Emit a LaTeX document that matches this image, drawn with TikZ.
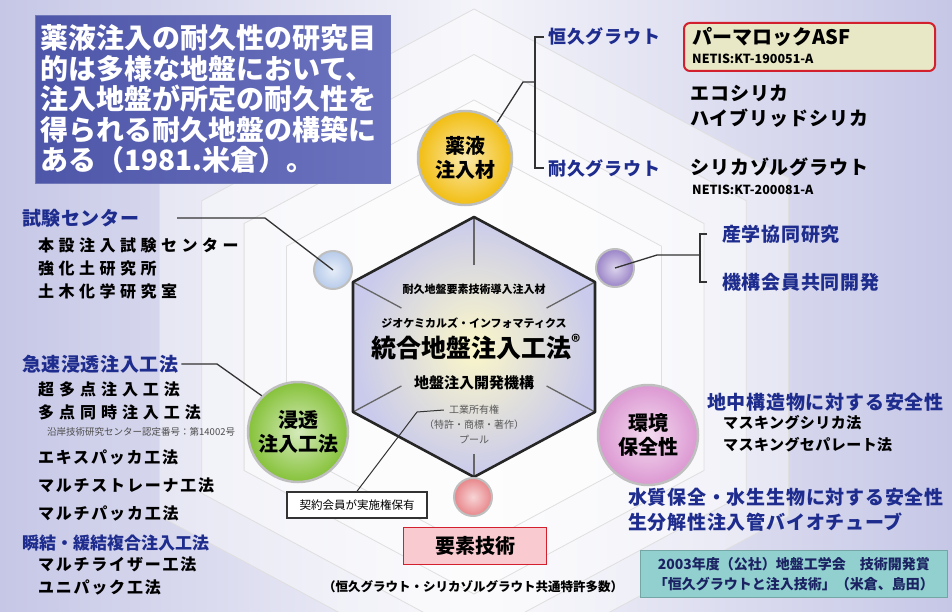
\documentclass[tikz,border=0pt]{standalone}
\usepackage{fontspec}
\setmainfont{Noto Sans CJK JP}
\usepackage{tikz}
\usepackage{xcolor}
\usetikzlibrary{calc}
\definecolor{lblblue}{HTML}{1E2C8E}
\definecolor{bgside}{HTML}{C6C7E6}
\definecolor{bgmid}{HTML}{F4F4FA}
\definecolor{hexfill}{HTML}{C9CAEC}
\definecolor{hexglow}{HTML}{FBF7C8}
\definecolor{quoteL}{HTML}{4E56A9}
\definecolor{quoteR}{HTML}{6C73BE}
\definecolor{yakcol}{HTML}{F2BE12}
\definecolor{shincol}{HTML}{86C23A}
\definecolor{kancol}{HTML}{DC98D2}
\definecolor{dotblue}{HTML}{B7CBEA}
\definecolor{dotpurple}{HTML}{9A84C8}
\definecolor{dotred}{HTML}{E8868A}
\definecolor{permafill}{HTML}{E9E8C6}
\definecolor{boxred}{HTML}{D2202E}
\definecolor{pinkbox}{HTML}{F9CACF}
\definecolor{awardcol}{HTML}{92D0CF}
\definecolor{awardtxt}{HTML}{1B2363}
\newcommand{\jfs}[2]{\fontsize{#1}{#2}\selectfont}
\newcommand{\lsp}[1]{\addfontfeatures{LetterSpace=#1}}
\tikzset{
bluelbl/.style={anchor=west, inner sep=0pt, text=lblblue, font=\bfseries\jfs{19}{22}\lsp{4}},
blklbl/.style={anchor=west, inner sep=0pt, font=\bfseries\jfs{19}{22}\lsp{5}},
listitem/.style={anchor=west, inner sep=0pt, font=\bfseries\jfs{16}{18}\lsp{#1}},
listitem/.default=11,
netis/.style={anchor=west, inner sep=0pt, font=\bfseries\jfs{12.5}{14}},
hextxt/.style={inner sep=0pt, font=\bfseries\jfs{11}{13}},
graytxt/.style={inner sep=0pt, text=black!65, font=\jfs{10}{12}},
ball/.style={circle, draw=gray!50, line width=2.5pt, inner color=#1!35!white, outer color=#1, shade,
  minimum size=100pt, align=center, font=\bfseries\jfs{20}{24}},
dot/.style={circle, draw=gray!50, line width=2pt, inner color=#1!35!white, outer color=#1, shade,
  minimum size=38pt},
ring/.style={fill=white, fill opacity=0.42, draw=gray!25, line width=0.8pt},
conn/.style={draw=black!80, line width=1.3pt},
spoke/.style={draw=black!60, line width=1.3pt},
hexline/.style={draw=black!85, line width=2.6pt, line join=round},
}
\begin{document}
\begin{tikzpicture}[x=1pt,y=-1pt]
% the background
\clip (0,0) rectangle (952,612);
\shade[left color=bgside, right color=bgside, middle color=bgmid] (0,0) rectangle (952,612);
\foreach \s in {2.6,2.25,1.9,1.55}
{
  \filldraw[ring] (474,{347-130*\s}) -- ({474+121*\s},{347-65*\s}) -- ({474+121*\s},{347+65*\s})
    -- (474,{347+130*\s}) -- ({474-121*\s},{347+65*\s}) -- ({474-121*\s},{347-65*\s}) -- cycle;
}
% the hexagon
\coordinate (hc) at (474,347);
\coordinate (h1) at (474,217);
\coordinate (h2) at (595,282);
\coordinate (h3) at (595,412);
\coordinate (h4) at (474,477);
\coordinate (h5) at (353,412);
\coordinate (h6) at (353,282);
\shade[inner color=hexglow, outer color=hexfill] (h1) -- (h2) -- (h3) -- (h4) -- (h5) -- (h6) -- cycle;
\foreach \v/\f in {h1/0.63,h2/0.6,h3/0.6,h4/0.82,h5/0.6,h6/0.6}
  \draw[spoke] (\v) -- ($(hc)!\f!(\v)$);
\draw[hexline] (h1) -- (h2) -- (h3) -- (h4) -- (h5) -- (h6) -- cycle;
% the circles
\node[ball=yakcol, minimum size=94pt, font=\bfseries\jfs{20}{24}] (yakueki) at (465,158) {薬液\\注入材};
\node[ball=shincol] (shinto) at (298,432) {浸透\\注入工法};
\node[ball=kancol] (kankyo) at (648,435) {環境\\保全性};
\node[dot=dotblue] (dotshiken) at (333,270) {};
\node[dot=dotpurple] (dotsangaku) at (615,268) {};
\node[dot=dotred] (dotyouso) at (473,497) {};
% the hexagon texts
\node[hextxt] (dounyu) at (474,289) {耐久地盤要素技術導入注入材};
\node[hextxt] (geochem) at (474,323) {ジオケミカルズ・インフォマティクス};
\node[inner sep=0pt, font=\bfseries\jfs{25}{28}] (tougou) at (476,347) {統合地盤注入工法\textsuperscript{®}};
\node[inner sep=0pt, font=\bfseries\jfs{15}{18}] (kaihatsu) at (474,383) {地盤注入開発機構};
\node[graytxt] (kogyo) at (474,410) {工業所有権};
\node[graytxt] (tokkyo) at (474,425) {（特許・商標・著作）};
\node[graytxt] (pool) at (474,440) {プール};
% the quote
\node[anchor=north west, left color=quoteL, right color=quoteR, draw=quoteL!80, minimum width=355pt,
  minimum height=168pt, inner xsep=5pt, text width=345pt, align=left, text=white,
  font=\bfseries\jfs{28}{30.5}] (mokuteki) at (35,15)
  {薬液注入の耐久性の研究目\\的は多様な地盤において、\\注入地盤が所定の耐久性を\\得られる耐久地盤の構築に\\ある（1981.米倉）。};
% the upper right
\node[bluelbl, font=\bfseries\jfs{18}{22}\lsp{5}] (koukyu) at (548,37) {恒久グラウト};
\node[bluelbl, font=\bfseries\jfs{18}{22}\lsp{5}] (taikyu) at (548,168) {耐久グラウト};
\node[anchor=north west, rounded corners=6pt, fill=permafill, draw=boxred, line width=2pt,
  minimum width=251pt, minimum height=48pt] (perma) at (683,22) {};
\node[anchor=west, inner sep=0pt, font=\bfseries\jfs{20}{22}] (permatxt) at (692,37) {パーマロックASF};
\node[netis] (netis1) at (692,59) {NETIS:KT-190051-A};
\node[blklbl] (ecosilica) at (690,93) {エコシリカ};
\node[blklbl] (hybrid) at (690,118) {ハイブリッドシリカ};
\node[blklbl] (silicasol) at (690,167) {シリカゾルグラウト};
\node[netis] (netis2) at (692,190) {NETIS:KT-200081-A};
% the left side
\node[bluelbl, font=\bfseries\jfs{19}{22}\lsp{3}] (shiken) at (22,218) {試験センター};
\node[listitem=28] (honsetsu) at (38,245) {本設注入試験センター};
\node[listitem=28] (kyouka) at (38,268) {強化土研究所};
\node[listitem=28] (doboku) at (38,291) {土木化学研究室};
\node[bluelbl, font=\bfseries\jfs{19}{22}\lsp{3}] (kyusoku) at (22,364) {急速浸透注入工法};
\node[listitem=31] (chotaten) at (38,389) {超多点注入工法};
\node[listitem=31] (tatendouji) at (38,412) {多点同時注入工法};
\node[anchor=west, inner sep=0pt, text=black!70, font=\jfs{9.5}{11}] (nintei) at (47,432) {沿岸技術研究センター認定番号：第14002号};
\node[listitem] (expacker) at (38,457) {エキスパッカ工法};
\node[listitem] (strainer) at (38,485) {マルチストレーナ工法};
\node[listitem] (mpacker) at (38,513) {マルチパッカ工法};
\node[bluelbl, font=\bfseries\jfs{17}{20}] (shunketsu) at (22,543) {瞬結・緩結複合注入工法};
\node[listitem] (riser) at (38,564) {マルチライザー工法};
\node[listitem] (unipack) at (38,587) {ユニパック工法};
% the right side
\node[bluelbl] (sangaku) at (722,234) {産学協同研究};
\node[bluelbl] (kaiin) at (722,282) {機構会員共同開発};
\node[bluelbl] (chichu) at (707,402) {地中構造物に対する安全性};
\node[anchor=west, inner sep=0pt, font=\bfseries\jfs{15}{18}\lsp{3}] (masksilica) at (723,423) {マスキングシリカ法};
\node[anchor=west, inner sep=0pt, font=\bfseries\jfs{15}{18}\lsp{3}] (maskpara) at (723,445) {マスキングセパレート法};
\node[bluelbl] (suishitsu) at (628,497) {水質保全・水生生物に対する安全性};
\node[bluelbl] (biotube) at (628,522) {生分解性注入管バイオチューブ};
\node[anchor=north west, fill=awardcol, draw=awardcol!80!black, line width=0.6pt, minimum width=307pt,
  minimum height=47pt, align=center, text=awardtxt, font=\bfseries\jfs{14}{20}] (award) at (640,550)
  {2003年度（公社）地盤工学会　技術開発賞\\「恒久グラウトと注入技術」（米倉、島田）};
% the bottom
\node[fill=white, draw=black!80, line width=1.5pt, minimum width=140pt, minimum height=26pt,
  font=\jfs{11.5}{13}] (keiyaku) at (357,505) {契約会員が実施権保有};
\node[fill=pinkbox, draw=boxred, line width=1.8pt, minimum width=143pt, minimum height=37pt,
  font=\bfseries\jfs{20}{22}] (youso) at (475,546) {要素技術};
\node[inner sep=0pt, font=\bfseries\jfs{12.5}{14}] (kyoutsu) at (473,587) {（恒久グラウト・シリカゾルグラウト共通特許多数）};
% the connectors
\coordinate (yakbend) at (523,82);
\coordinate (yakjn) at (535,82);
\draw[conn] (yakueki.48) -- (yakbend) -- (yakjn);
\draw[conn] ([xshift=-4pt]koukyu.west) -| (yakjn) |- ([xshift=-4pt]taikyu.west);
\coordinate (shikenstart) at (177,218);
\coordinate (shikenbend) at (265,218);
\draw[conn] (shikenstart) -- (shikenbend) -- (dotshiken.center);
\coordinate (kyubend) at (217,364);
\draw[conn] ([xshift=3pt]kyusoku.east) -- (kyubend) -- (shinto.135);
\coordinate (sanbend) at (657,255);
\coordinate (sanjn) at (700,255);
\draw[conn] (dotsangaku.center) -- (sanbend) -- (sanjn);
\draw[conn] ([xshift=-15pt]sangaku.west) -| (sanjn) |- ([xshift=-15pt]kaiin.west);
\coordinate (kbend) at (417,412);
\draw[conn, line width=1pt] (keiyaku.north) -- (kbend) -- ([xshift=-5pt]kogyo.west);
\end{tikzpicture}
\end{document}
